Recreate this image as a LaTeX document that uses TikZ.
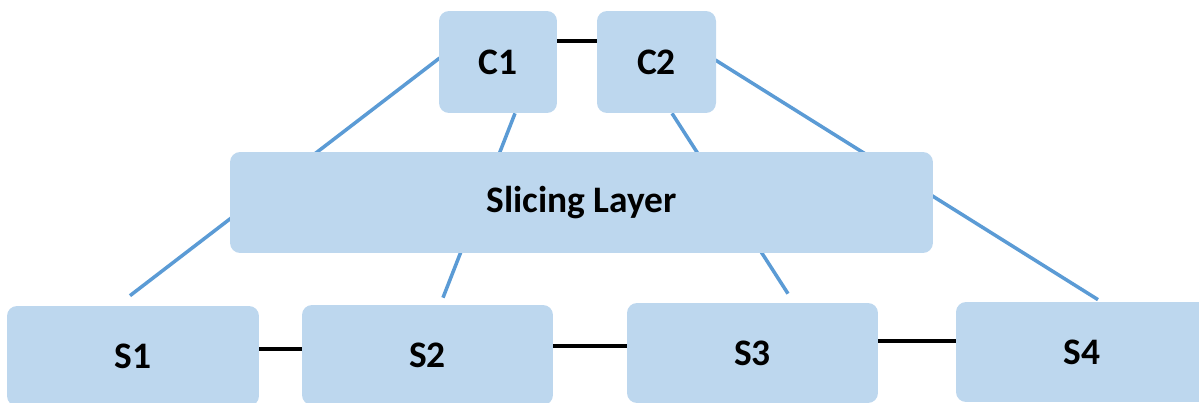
\documentclass[tikz,border=0pt]{standalone}
\usepackage{fontspec}
\setmainfont{Carlito}
\usepackage{tikz}
\usetikzlibrary{calc,backgrounds}
\definecolor{boxfill}{HTML}{BDD7EE}
\definecolor{linkblue}{HTML}{5B9BD5}

\begin{document}
\begin{tikzpicture}[
  x=0.02cm, y=-0.02cm,
  box/.style={fill=boxfill, rounded corners=0.2cm, align=center, inner sep=0pt,
              font=\fontsize{21.3}{25}\selectfont\bfseries},
  link/.style={draw=linkblue, line width=2pt},
  wire/.style={draw=black, line width=2pt}]
\clip (0,0) rectangle (1199,402);
\node[box, minimum width=2.36cm, minimum height=2.04cm] (c1) at (498,62) {C1};
\node[box, minimum width=2.38cm, minimum height=2.04cm] (c2) at (656.5,62) {C2};
\node[box, minimum width=14.06cm, minimum height=2.02cm] (slice) at (581.5,202.5) {Slicing Layer};
\node[box, minimum width=5.04cm, minimum height=2cm] (s1) at (133,356) {S1};
\node[box, minimum width=5.02cm, minimum height=2cm] (s2) at (427.5,355) {S2};
\node[box, minimum width=5.02cm, minimum height=2cm] (s3) at (752.5,353) {S3};
\node[box, minimum width=5.04cm, minimum height=2cm] (s4) at (1082,352) {S4};
\begin{scope}[on background layer]
\draw[link] ($(c1.west)+(1,-4)$) -- ($(s1.north)+(-3,-10)$);
\draw[link] ($(c1.south)+(17,0)$) -- ($(s2.north)+(15.5,-7)$);
\draw[link] ($(c2.south)+(15.5,0)$) -- ($(s3.north)+(35.5,-9)$);
\draw[link] ($(c2.east)+(-1,-2)$) -- ($(s4.north)+(16,-2)$);
\end{scope}
\draw[wire] ($(c1.east)+(0,-21)$) -- ($(c2.west)+(0,-21)$);
\draw[wire] ($(s1.east)+(0,-7)$) -- ($(s2.west)+(0,-6)$);
\draw[wire] ($(s2.east)+(0,-9)$) -- ($(s3.west)+(0,-7)$);
\draw[wire] ($(s3.east)+(0,-12)$) -- ($(s4.west)+(0,-11)$);
\end{tikzpicture}
\end{document}
